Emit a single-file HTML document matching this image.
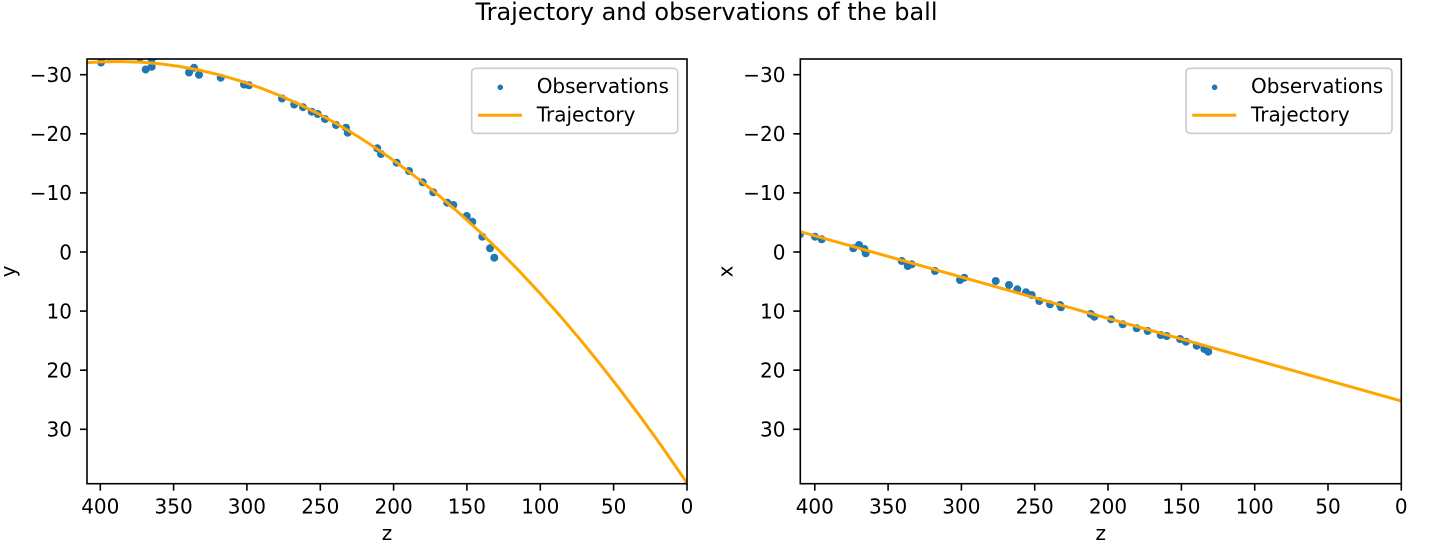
<!DOCTYPE html>
<html><head><meta charset="utf-8"><style>
html,body{margin:0;padding:0;background:#fff;}
svg{display:block;}
text{font-family:"DejaVu Sans","Liberation Sans",sans-serif;fill:#000;}
</style></head><body>
<svg width="1432" height="552" viewBox="0 0 1432 552" xmlns="http://www.w3.org/2000/svg">
<defs>
<clipPath id="cl"><rect x="87" y="59" width="600" height="424.7"/></clipPath>
<clipPath id="cr"><rect x="800.3" y="59" width="601" height="424.7"/></clipPath>
</defs>
<rect width="1432" height="552" fill="#fff"/>
<text x="706.5" y="20" font-size="24" text-anchor="middle">Trajectory and observations of the ball</text>

<!-- LEFT AXES -->
<g clip-path="url(#cl)" fill="#1f77b4">
<circle cx="101" cy="62.5" r="4"/><circle cx="103" cy="56.5" r="4"/><circle cx="109" cy="56" r="4"/>
<circle cx="140" cy="57.5" r="4"/><circle cx="151.7" cy="59" r="4"/><circle cx="145.7" cy="69.5" r="4"/>
<circle cx="151.7" cy="66.8" r="4"/><circle cx="189" cy="72.5" r="4"/><circle cx="194" cy="67.8" r="4"/>
<circle cx="199" cy="74.8" r="4"/><circle cx="220.7" cy="77.7" r="4"/><circle cx="244" cy="84.5" r="4"/>
<circle cx="249" cy="85.3" r="4"/><circle cx="282" cy="98.5" r="4"/><circle cx="294.2" cy="104.5" r="4"/>
<circle cx="303" cy="107.2" r="4"/><circle cx="311.7" cy="111.7" r="4"/><circle cx="317.7" cy="114" r="4"/>
<circle cx="325" cy="119" r="4"/><circle cx="336" cy="125" r="4"/><circle cx="346" cy="127.7" r="4"/>
<circle cx="347.7" cy="132.7" r="4"/><circle cx="377.3" cy="148.3" r="4"/><circle cx="381" cy="154" r="4"/>
<circle cx="396.7" cy="162.7" r="4"/><circle cx="409" cy="171" r="4"/><circle cx="422.7" cy="182.3" r="4"/>
<circle cx="433.3" cy="192.3" r="4"/><circle cx="447.3" cy="202.7" r="4"/><circle cx="453.3" cy="205" r="4"/>
<circle cx="466.7" cy="216" r="4"/><circle cx="472.3" cy="221.7" r="4"/><circle cx="482.3" cy="236.7" r="4"/>
<circle cx="490" cy="248.3" r="4"/><circle cx="494.3" cy="257.7" r="4"/>
</g>
<polyline clip-path="url(#cl)" fill="none" stroke="#ffa500" stroke-width="3" stroke-linejoin="round"
points="87,62.75 100,61.92 118,61.5 140,62.13 160,63.8 180,66.5 200,70.25 220,75.04 240,80.87 260,87.75 280,95.66 300,104.62 320,114.61 340,125.65 360,137.73 380,150.85 400,165.01 420,180.22 440,196.46 460,213.75 480,232.08 500,251.45 520,271.86 540,293.31 560,315.8 580,339.34 600,363.91 620,389.53 640,416.19 660,443.89 687,482.94"/>
<rect x="87" y="59" width="600" height="424.7" fill="none" stroke="#000" stroke-width="1.6"/>
<g stroke="#000" stroke-width="1.6">
<line x1="100.3" y1="483.7" x2="100.3" y2="490.7"/><line x1="173.6" y1="483.7" x2="173.6" y2="490.7"/>
<line x1="246.9" y1="483.7" x2="246.9" y2="490.7"/><line x1="320.3" y1="483.7" x2="320.3" y2="490.7"/>
<line x1="393.6" y1="483.7" x2="393.6" y2="490.7"/><line x1="466.9" y1="483.7" x2="466.9" y2="490.7"/>
<line x1="540.3" y1="483.7" x2="540.3" y2="490.7"/><line x1="613.6" y1="483.7" x2="613.6" y2="490.7"/>
<line x1="687" y1="483.7" x2="687" y2="490.7"/>
<line x1="80" y1="74.7" x2="87" y2="74.7"/><line x1="80" y1="133.8" x2="87" y2="133.8"/>
<line x1="80" y1="192.9" x2="87" y2="192.9"/><line x1="80" y1="252" x2="87" y2="252"/>
<line x1="80" y1="311.1" x2="87" y2="311.1"/><line x1="80" y1="370.2" x2="87" y2="370.2"/>
<line x1="80" y1="429.3" x2="87" y2="429.3"/>
</g>
<g font-size="20" text-anchor="middle">
<text x="100.3" y="513.3">400</text><text x="173.6" y="513.3">350</text><text x="246.9" y="513.3">300</text>
<text x="320.3" y="513.3">250</text><text x="393.6" y="513.3">200</text><text x="466.9" y="513.3">150</text>
<text x="540.3" y="513.3">100</text><text x="613.6" y="513.3">50</text><text x="687" y="513.3">0</text>
</g>
<g font-size="20" text-anchor="end">
<text x="72" y="82">−30</text><text x="72" y="141.1">−20</text><text x="72" y="200.2">−10</text>
<text x="72" y="259.3">0</text><text x="72" y="318.4">10</text><text x="72" y="377.5">20</text><text x="72" y="436.6">30</text>
</g>
<text x="387" y="540" font-size="20" text-anchor="middle">z</text>
<text transform="translate(15,271.4) rotate(-90)" font-size="20" text-anchor="middle">y</text>
<!-- left legend -->
<rect x="471.7" y="68.3" width="206" height="65" rx="4" ry="4" fill="#fff" fill-opacity="0.8" stroke="#cccccc" stroke-width="1.6"/>
<circle cx="500.3" cy="87.3" r="2.8" fill="#1f77b4"/>
<line x1="478" y1="115.3" x2="522" y2="115.3" stroke="#ffa500" stroke-width="3"/>
<text x="536.7" y="93" font-size="20">Observations</text>
<text x="536.7" y="121.3" font-size="20">Trajectory</text>

<!-- RIGHT AXES -->
<g clip-path="url(#cr)" fill="#1f77b4">
<circle cx="800" cy="234.3" r="4"/><circle cx="815" cy="236.7" r="4"/><circle cx="821.7" cy="239.3" r="4"/>
<circle cx="853.3" cy="248.3" r="4"/><circle cx="859" cy="245" r="4"/><circle cx="864.3" cy="249" r="4"/>
<circle cx="865.7" cy="253.3" r="4"/><circle cx="901.7" cy="261" r="4"/><circle cx="907.7" cy="266" r="4"/>
<circle cx="911.7" cy="264.3" r="4"/><circle cx="935" cy="271" r="4"/><circle cx="960" cy="280" r="4"/>
<circle cx="964.3" cy="277.7" r="4"/><circle cx="995.7" cy="281" r="4"/><circle cx="1009" cy="285" r="4"/>
<circle cx="1017.3" cy="289.3" r="4"/><circle cx="1026" cy="292.3" r="4"/><circle cx="1031.7" cy="295" r="4"/>
<circle cx="1039.3" cy="301" r="4"/><circle cx="1050" cy="304.3" r="4"/><circle cx="1060" cy="305" r="4"/>
<circle cx="1061" cy="307.3" r="4"/><circle cx="1090.7" cy="314" r="4"/><circle cx="1094.3" cy="316.7" r="4"/>
<circle cx="1111" cy="319.3" r="4"/><circle cx="1122.7" cy="324.3" r="4"/><circle cx="1136.7" cy="328.3" r="4"/>
<circle cx="1147.7" cy="331" r="4"/><circle cx="1160.7" cy="335" r="4"/><circle cx="1166.7" cy="336" r="4"/>
<circle cx="1180" cy="339" r="4"/><circle cx="1186" cy="341.7" r="4"/><circle cx="1196.7" cy="345.7" r="4"/>
<circle cx="1204.3" cy="349" r="4"/><circle cx="1208.3" cy="351.7" r="4"/>
</g>
<line clip-path="url(#cr)" x1="800.3" y1="231.7" x2="1401.3" y2="401" stroke="#ffa500" stroke-width="3"/>
<rect x="800.3" y="59" width="601" height="424.7" fill="none" stroke="#000" stroke-width="1.6"/>
<g stroke="#000" stroke-width="1.6">
<line x1="814.8" y1="483.7" x2="814.8" y2="490.7"/><line x1="888.1" y1="483.7" x2="888.1" y2="490.7"/>
<line x1="961.4" y1="483.7" x2="961.4" y2="490.7"/><line x1="1034.7" y1="483.7" x2="1034.7" y2="490.7"/>
<line x1="1108" y1="483.7" x2="1108" y2="490.7"/><line x1="1181.4" y1="483.7" x2="1181.4" y2="490.7"/>
<line x1="1254.7" y1="483.7" x2="1254.7" y2="490.7"/><line x1="1328" y1="483.7" x2="1328" y2="490.7"/>
<line x1="1401.3" y1="483.7" x2="1401.3" y2="490.7"/>
<line x1="793.3" y1="74.7" x2="800.3" y2="74.7"/><line x1="793.3" y1="133.8" x2="800.3" y2="133.8"/>
<line x1="793.3" y1="192.9" x2="800.3" y2="192.9"/><line x1="793.3" y1="252" x2="800.3" y2="252"/>
<line x1="793.3" y1="311.1" x2="800.3" y2="311.1"/><line x1="793.3" y1="370.2" x2="800.3" y2="370.2"/>
<line x1="793.3" y1="429.3" x2="800.3" y2="429.3"/>
</g>
<g font-size="20" text-anchor="middle">
<text x="814.8" y="513.3">400</text><text x="888.1" y="513.3">350</text><text x="961.4" y="513.3">300</text>
<text x="1034.7" y="513.3">250</text><text x="1108" y="513.3">200</text><text x="1181.4" y="513.3">150</text>
<text x="1254.7" y="513.3">100</text><text x="1328" y="513.3">50</text><text x="1401.3" y="513.3">0</text>
</g>
<g font-size="20" text-anchor="end">
<text x="785.5" y="82">−30</text><text x="785.5" y="141.1">−20</text><text x="785.5" y="200.2">−10</text>
<text x="785.5" y="259.3">0</text><text x="785.5" y="318.4">10</text><text x="785.5" y="377.5">20</text><text x="785.5" y="436.6">30</text>
</g>
<text x="1100.8" y="540" font-size="20" text-anchor="middle">z</text>
<text transform="translate(732.3,271.4) rotate(-90)" font-size="20" text-anchor="middle">x</text>
<!-- right legend -->
<rect x="1186" y="68.3" width="206" height="65" rx="4" ry="4" fill="#fff" fill-opacity="0.8" stroke="#cccccc" stroke-width="1.6"/>
<circle cx="1214.6" cy="87.3" r="2.8" fill="#1f77b4"/>
<line x1="1192.3" y1="115.3" x2="1236.3" y2="115.3" stroke="#ffa500" stroke-width="3"/>
<text x="1251" y="93" font-size="20">Observations</text>
<text x="1251" y="121.3" font-size="20">Trajectory</text>
</svg>
</body></html>
